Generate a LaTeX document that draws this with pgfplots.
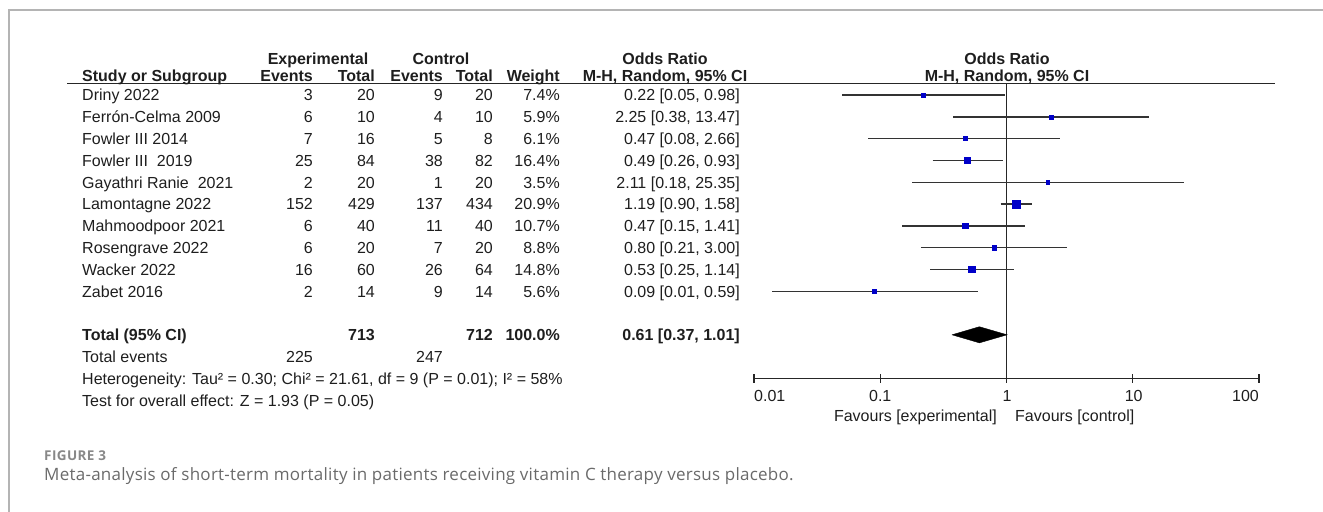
\documentclass[border=0pt]{standalone}
\usepackage{pgfplots}
\pgfplotsset{compat=1.18}
\usepackage{fontspec}
\setmainfont{Liberation Sans}
\newfontfamily\capfont[LetterSpace=1.5]{Open Sans}
\newfontfamily\figfont[LetterSpace=3]{Open Sans}
\definecolor{txt}{HTML}{1E1E1E}
\definecolor{sq}{HTML}{0000C8}
\definecolor{framec}{HTML}{B4B4B4}
\definecolor{capc}{HTML}{6A6A6A}
\newcommand\tf{\fontsize{16bp}{19bp}\selectfont}
% row: r, name, ee, et, ce, ct, w, ci
\newcommand\trow[8]{%
  \node[tf,anchor=base west] at (82,{433.0-21.8*#1}) {#2};
  \node[tf,anchor=base east] at (313,{433.0-21.8*#1}) {#3};
  \node[tf,anchor=base east] at (375,{433.0-21.8*#1}) {#4};
  \node[tf,anchor=base east] at (443,{433.0-21.8*#1}) {#5};
  \node[tf,anchor=base east] at (493,{433.0-21.8*#1}) {#6};
  \node[tf,anchor=base east] at (560,{433.0-21.8*#1}) {#7};
  \node[tf,anchor=base east] at (740,{433.0-21.8*#1}) {#8};
}
\begin{document}
\begin{tikzpicture}[
  tf/.style={font=\tf, text=txt, inner sep=0pt},
  tfb/.style={font=\tf\bfseries, text=txt, inner sep=0pt},
  ci/.style={line width=1.4bp, color=black!80},
  sqm/.style={only marks, mark=square*, mark options={draw=sq, fill=sq}}]
\path[use as bounding box] (0,0) rectangle (1323bp,512bp);
% forest plot
\begin{axis}[at={(754bp,133.6bp)}, anchor=south west, scale only axis,
  width=505bp, height=294.9bp,
  xmode=log, xmin=0.01, xmax=100, ymin=-14, ymax=-0.472,
  axis x line*=bottom, axis y line=none,
  xtick={0.01,0.1,1,10,100}, xticklabels={,,,,}, xminorticks=false,
  tick align=center, major tick length=9bp,
  x axis line style={line width=1.3bp, black!85},
  every tick/.style={line width=1.3bp, black!85},
  clip=false]
\addplot[line width=1.1bp, black!85] coordinates {(1,-0.472) (1,-14)};
% confidence intervals
\addplot[ci] coordinates {(0.05,-1) (0.98,-1)};
\addplot[ci] coordinates {(0.38,-2) (13.47,-2)};
\addplot[ci] coordinates {(0.08,-3) (2.66,-3)};
\addplot[ci] coordinates {(0.26,-4) (0.93,-4)};
\addplot[ci] coordinates {(0.18,-5) (25.35,-5)};
\addplot[ci] coordinates {(0.90,-6) (1.58,-6)};
\addplot[ci] coordinates {(0.15,-7) (1.41,-7)};
\addplot[ci] coordinates {(0.21,-8) (3.00,-8)};
\addplot[ci] coordinates {(0.25,-9) (1.14,-9)};
\addplot[ci] coordinates {(0.014,-10) (0.59,-10)};
% point estimates, size by weight
\addplot[sqm, mark size=2.20bp] coordinates {(0.22,-1)};
\addplot[sqm, mark size=1.97bp] coordinates {(2.25,-2)};
\addplot[sqm, mark size=2.00bp] coordinates {(0.47,-3)};
\addplot[sqm, mark size=3.28bp] coordinates {(0.49,-4)};
\addplot[sqm, mark size=1.52bp] coordinates {(2.11,-5)};
\addplot[sqm, mark size=3.70bp] coordinates {(1.19,-6)};
\addplot[sqm, mark size=2.65bp] coordinates {(0.47,-7)};
\addplot[sqm, mark size=2.40bp] coordinates {(0.80,-8)};
\addplot[sqm, mark size=3.12bp] coordinates {(0.53,-9)};
\addplot[sqm, mark size=1.92bp] coordinates {(0.09,-10)};
% pooled diamond
\addplot[fill=black, draw=black] coordinates {(0.37,-12) (0.61,-11.63) (1.01,-12) (0.61,-12.37) (0.37,-12)};
\end{axis}
\begin{scope}[x=1bp,y=1bp]
% frame
\draw[framec, line width=1.4bp] (1323,502) -- (9,502) -- (9,0);
% header rule
\draw[line width=1.4bp, black!85] (67,428.5) -- (1275,428.5);
% headers
\node[tfb,anchor=base] at (318,447.5) {Experimental};
\node[tfb,anchor=base] at (441,447.5) {Control};
\node[tfb,anchor=base] at (665,447.5) {Odds Ratio};
\node[tfb,anchor=base] at (1007,447.5) {Odds Ratio};
\node[tfb,anchor=base west] at (82,430.3) {Study or Subgroup};
\node[tfb,anchor=base east] at (313,430.3) {Events};
\node[tfb,anchor=base east] at (375,430.3) {Total};
\node[tfb,anchor=base east] at (443,430.3) {Events};
\node[tfb,anchor=base east] at (493,430.3) {Total};
\node[tfb,anchor=base east] at (560,430.3) {Weight};
\node[tfb,anchor=base] at (665,430.3) {M-H, Random, 95\% CI};
\node[tfb,anchor=base] at (1007,430.3) {M-H, Random, 95\% CI};
% study rows
\trow{1}{Driny 2022}{3}{20}{9}{20}{7.4\%}{0.22 [0.05, 0.98]}
\trow{2}{Ferrón-Celma 2009}{6}{10}{4}{10}{5.9\%}{2.25 [0.38, 13.47]}
\trow{3}{Fowler III 2014}{7}{16}{5}{8}{6.1\%}{0.47 [0.08, 2.66]}
\trow{4}{Fowler III\ \ 2019}{25}{84}{38}{82}{16.4\%}{0.49 [0.26, 0.93]}
\trow{5}{Gayathri Ranie\ \ 2021}{2}{20}{1}{20}{3.5\%}{2.11 [0.18, 25.35]}
\trow{6}{Lamontagne 2022}{152}{429}{137}{434}{20.9\%}{1.19 [0.90, 1.58]}
\trow{7}{Mahmoodpoor 2021}{6}{40}{11}{40}{10.7\%}{0.47 [0.15, 1.41]}
\trow{8}{Rosengrave 2022}{6}{20}{7}{20}{8.8\%}{0.80 [0.21, 3.00]}
\trow{9}{Wacker 2022}{16}{60}{26}{64}{14.8\%}{0.53 [0.25, 1.14]}
\trow{10}{Zabet 2016}{2}{14}{9}{14}{5.6\%}{0.09 [0.01, 0.59]}
% total rows
\node[tfb,anchor=base west] at (82,{433.0-21.8*12}) {Total (95\% CI)};
\node[tfb,anchor=base east] at (375,{433.0-21.8*12}) {713};
\node[tfb,anchor=base east] at (493,{433.0-21.8*12}) {712};
\node[tfb,anchor=base east] at (560,{433.0-21.8*12}) {100.0\%};
\node[tfb,anchor=base east] at (740,{433.0-21.8*12}) {0.61 [0.37, 1.01]};
\node[tf,anchor=base west] at (82,{433.0-21.8*13}) {Total events};
\node[tf,anchor=base east] at (313,{433.0-21.8*13}) {225};
\node[tf,anchor=base east] at (443,{433.0-21.8*13}) {247};
\node[tf,anchor=base west] at (82,{433.0-21.8*14}) {Heterogeneity: Tau² = 0.30; Chi² = 21.61, df = 9 (P = 0.01); I² = 58\%};
\node[tf,anchor=base west] at (82,{433.0-21.8*15}) {Test for overall effect: Z = 1.93 (P = 0.05)};
% tick labels
\node[tf,anchor=base west] at (754,110.8) {0.01};
\node[tf,anchor=base] at (880.25,110.8) {0.1};
\node[tf,anchor=base] at (1007,110.8) {1};
\node[tf,anchor=base] at (1133.75,110.8) {10};
\node[tf,anchor=base east] at (1259,110.8) {100};
\node[tf,anchor=base east] at (997,90.8) {Favours [experimental]};
\node[tf,anchor=base west] at (1015,90.8) {Favours [control]};
% caption
\node[anchor=base west, inner sep=0pt, text=capc!80, font=\figfont\bfseries\fontsize{13.5bp}{16bp}\selectfont] at (44,52) {FIGURE 3};
\node[anchor=base west, inner sep=0pt, text=capc, font=\capfont\fontsize{17bp}{20bp}\selectfont] at (44,32) {Meta-analysis of short-term mortality in patients receiving vitamin C therapy versus placebo.};
\end{scope}
\end{tikzpicture}
\end{document}
